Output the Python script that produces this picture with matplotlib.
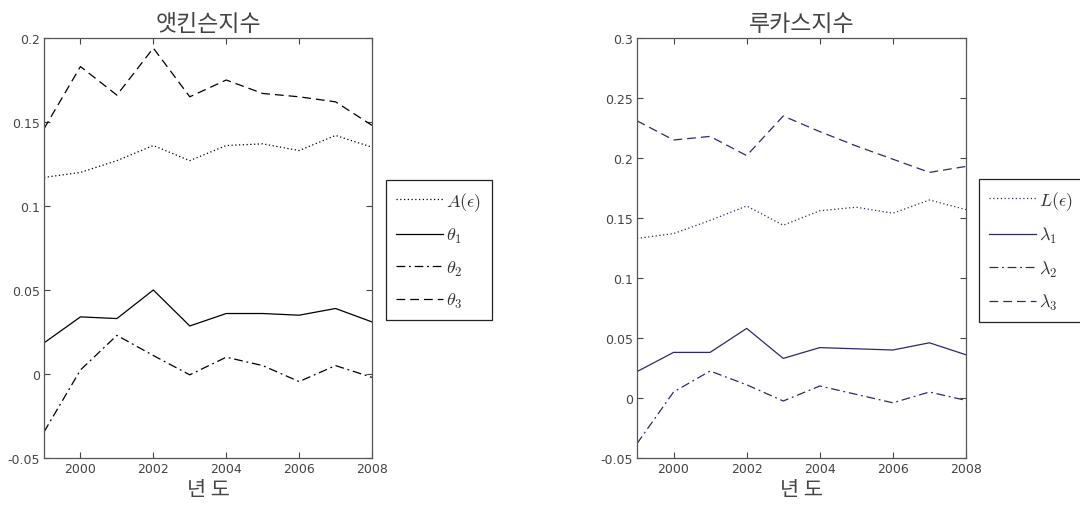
import matplotlib
matplotlib.use("Agg")
import matplotlib.pyplot as plt

plt.rcParams['font.family'] = ['Noto Sans CJK KR', 'DejaVu Sans']
plt.rcParams['mathtext.fontset'] = 'cm'

years = [1999, 2000, 2001, 2002, 2003, 2004, 2005, 2006, 2007, 2008]

# 앳킨슨지수
atk_A = [0.117, 0.120, 0.127, 0.136, 0.127, 0.136, 0.137, 0.133, 0.142, 0.135]
atk_t1 = [0.0185, 0.034, 0.033, 0.050, 0.0286, 0.036, 0.036, 0.035, 0.039, 0.031]
atk_t2 = [-0.0345, 0.0024, 0.023, 0.011, -0.0005, 0.010, 0.005, -0.0045, 0.005, -0.002]
atk_t3 = [0.146, 0.183, 0.166, 0.194, 0.165, 0.175, 0.167, 0.165, 0.162, 0.148]

# 루카스지수
luc_L = [0.133, 0.137, 0.148, 0.160, 0.144, 0.156, 0.159, 0.154, 0.165, 0.157]
luc_l1 = [0.022, 0.038, 0.038, 0.058, 0.033, 0.042, 0.041, 0.040, 0.046, 0.036]
luc_l2 = [-0.038, 0.005, 0.0225, 0.011, -0.0025, 0.010, 0.003, -0.004, 0.005, -0.002]
luc_l3 = [0.231, 0.215, 0.218, 0.202, 0.235, 0.222, 0.210, 0.199, 0.188, 0.193]

xticks = [2000, 2002, 2004, 2006, 2008]
atk_yticks = [-0.05, 0, 0.05, 0.1, 0.15, 0.2]
atk_ylabels = ['-0.05', '0', '0.05', '0.1', '0.15', '0.2']
luc_yticks = [-0.05, 0, 0.05, 0.1, 0.15, 0.2, 0.25, 0.3]
luc_ylabels = ['-0.05', '0', '0.05', '0.1', '0.15', '0.2', '0.25', '0.3']

W, H = 1080, 506
fig = plt.figure(figsize=(W / 100, H / 100), dpi=100)

dash = (0, (7, 4))
dashdot = (0, (7, 3, 1.5, 3))
dot = (0, (1, 2))


def panel(rect, series, labels, color, yticks, ylabels, ylim, title, leg_xy):
    ax = fig.add_axes(rect)
    styles = [dot, '-', dashdot, dash]
    handles = []
    for s, lab, ls in zip(series, labels, styles):
        h, = ax.plot(years, s, color=color, lw=0.9, linestyle=ls, label=lab)
        handles.append(h)
    ax.set_xlim(1999, 2008)
    ax.set_ylim(*ylim)
    ax.set_xticks(xticks)
    ax.set_yticks(yticks)
    ax.set_yticklabels(ylabels)
    ax.tick_params(direction='in', top=True, right=True, length=4,
                   labelsize=9, colors='#444444', width=0.8, pad=3)
    for lab in ax.get_xticklabels() + ax.get_yticklabels():
        lab.set_family(['DejaVu Sans'])
    for sp in ax.spines.values():
        sp.set_color('#555555')
        sp.set_linewidth(0.9)
    ax.set_title(title, fontsize=16.5, color='#444444', pad=6,
                 fontweight='light')
    ax.set_xlabel('년 도', fontsize=15, color='#444444', labelpad=2,
                  fontweight='light')
    leg = ax.legend(handles=handles, loc='upper left',
                    bbox_to_anchor=(leg_xy[0] / W, 1 - leg_xy[1] / H),
                    bbox_transform=fig.transFigure, fontsize=13,
                    handlelength=2.6, handletextpad=0.2, labelspacing=0.75,
                    borderpad=0.55, fancybox=False, framealpha=1,
                    edgecolor='#222222', borderaxespad=0)
    leg.get_frame().set_linewidth(0.9)
    for t in leg.get_texts():
        t.set_color('#333333')
    return ax


panel([44 / W, 1 - 459 / H, 328 / W, 420 / H],
      [atk_A, atk_t1, atk_t2, atk_t3],
      [r'$A(\epsilon)$', r'$\theta_1$', r'$\theta_2$', r'$\theta_3$'],
      'black', atk_yticks, atk_ylabels, (-0.05, 0.2), '앳킨슨지수', (386, 181))

panel([637 / W, 1 - 459 / H, 329 / W, 420 / H],
      [luc_L, luc_l1, luc_l2, luc_l3],
      [r'$L(\epsilon)$', r'$\lambda_1$', r'$\lambda_2$', r'$\lambda_3$'],
      '#2a2a6e', luc_yticks, luc_ylabels, (-0.05, 0.3), '루카스지수', (979, 180))

fig.savefig('out.png', dpi=100)
